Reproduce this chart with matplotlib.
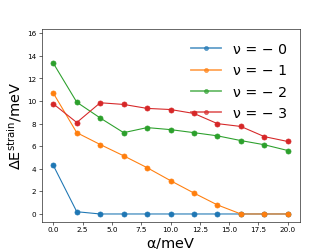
import matplotlib
matplotlib.use("Agg")
import matplotlib.pyplot as plt

plt.rcParams["mathtext.default"] = "regular"

alpha = [0, 2, 4, 6, 8, 10, 12, 14, 16, 18, 20]

nu0 = [4.3, 0.2, 0.0, 0.0, 0.0, 0.0, 0.0, 0.0, 0.0, 0.0, 0.0]
nu1 = [10.7, 7.2, 6.15, 5.15, 4.1, 2.95, 1.85, 0.8, 0.0, 0.0, 0.0]
nu2 = [13.35, 9.9, 8.5, 7.2, 7.65, 7.47, 7.2, 6.92, 6.5, 6.13, 5.62]
nu3 = [9.75, 8.1, 9.85, 9.7, 9.35, 9.25, 8.9, 8.0, 7.75, 6.85, 6.42]

labels = ["ν = − 0", "ν = − 1", "ν = − 2", "ν = − 3"]

fig, ax = plt.subplots(figsize=(6.4, 4.8), dpi=52)

for ys, lab in zip([nu0, nu1, nu2, nu3], labels):
    ax.plot(alpha, ys, marker="o", markersize=7, label=lab)

ax.set_ylim(-0.67, 16.35)
ax.set_yticks(range(0, 17, 2))
ax.set_xlabel(r"$\alpha$/meV", fontsize=20)
ax.set_ylabel(r"$\Delta E^{strain}$/meV", fontsize=20)
leg = ax.legend(fontsize=19.5, frameon=False, loc="upper right",
                labelspacing=0.53, handlelength=2.13, markerscale=0.8)
for h in leg.get_lines():
    h.set_linewidth(2.5)
    h.set_alpha(0.7)

fig.savefig("out.png", dpi=52)
